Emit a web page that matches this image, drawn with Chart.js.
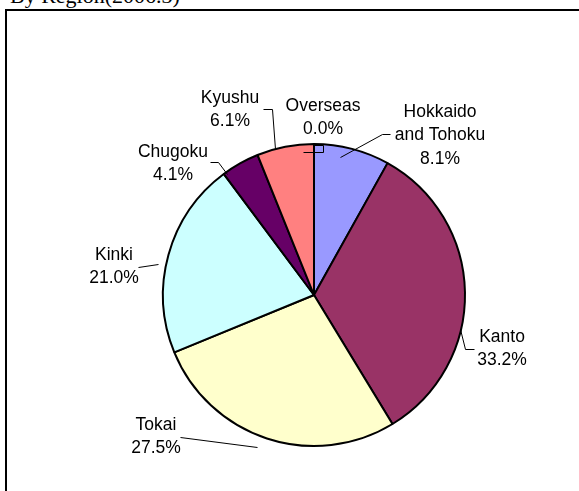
<!DOCTYPE html>
<html>
<head>
<meta charset="utf-8">
<script src="https://cdn.jsdelivr.net/npm/chart.js@4/dist/chart.umd.min.js"></script>
<style>
    html, body { margin: 0; padding: 0; background: #fff; overflow: hidden; }
    #titulo {
        position: absolute; left: 10px; top: -15px;
        font-family: "Liberation Serif", "DejaVu Serif", serif; font-size: 22px;
        line-height: 22px; color: #000; white-space: nowrap;
    }
    #marco {
        position: absolute; left: 5px; top: 9px; width: 600px; height: 500px;
        border-top: 2px solid #000; border-left: 2px solid #000;
    }
    #chartRegion { position: absolute; left: 0; top: 0; }
</style>
</head>
<body>
<div id="titulo">By Region(2006.3)</div>
<div id="marco"></div>
<canvas id="chartRegion" width="579" height="491"></canvas>
<script>
// Datos del gráfico (porcentaje por región)
const regiones = ['Hokkaido\nand Tohoku', 'Kanto', 'Tokai', 'Kinki', 'Chugoku', 'Kyushu', 'Overseas'];
const porcentajes = [8.1, 33.2, 27.5, 21.0, 4.1, 6.1, 0.0];
const colores = ['#9999FF', '#993366', '#FFFFCC', '#CCFFFF', '#660066', '#FF8080', '#FFFFFF'];

// Posición de las etiquetas respecto al centro del pastel (texto + línea guía)
const etiquetas = [
    { x: 126, y: -183, guia: [[26, -138], [68, -161], [76, -161]] },
    { x: 188, y: 42, guia: [[146, 34], [151, 54], [160, 54]] },
    { x: -158, y: 130, guia: [[-134, 142], [-57, 152]] },
    { x: -200, y: -40, guia: [[-176, -28], [-156, -31]] },
    { x: -141, y: -143, guia: [[-104, -133], [-96, -133], [-87, -121]] },
    { x: -84, y: -197, guia: [[-51, -186], [-42, -186], [-39, -146]] },
    { x: 9, y: -189, guia: [[-1, -150], [9, -150], [9, -143], [-11, -143]] }
];

const pluginEtiquetas = {
    id: 'etiquetas',
    afterDatasetsDraw(chart) {
        const ctx = chart.ctx;
        const arco = chart.getDatasetMeta(0).data[0];
        const cx = arco.x, cy = arco.y;
        ctx.save();
        ctx.strokeStyle = '#000';
        ctx.lineWidth = 1;
        ctx.fillStyle = '#000';
        ctx.font = '17.5px "Liberation Sans", Arial, sans-serif';
        ctx.textAlign = 'center';
        ctx.textBaseline = 'middle';
        etiquetas.forEach((et, i) => {
            ctx.beginPath();
            et.guia.forEach((p, j) => {
                const px = cx + p[0] + 0.5, py = cy + p[1] + 0.5;
                if (j === 0) ctx.moveTo(px, py); else ctx.lineTo(px, py);
            });
            ctx.stroke();
            const lineas = regiones[i].split('\n').concat([porcentajes[i].toFixed(1) + '%']);
            lineas.forEach((linea, k) => {
                ctx.fillText(linea, cx + et.x, cy + et.y + k * 23.5);
            });
        });
        ctx.restore();
    }
};

const ctxRegion = document.getElementById('chartRegion').getContext('2d');
const chartRegion = new Chart(ctxRegion, {
    type: 'pie',
    data: {
        labels: regiones,
        datasets: [{
            data: porcentajes,
            backgroundColor: colores,
            borderColor: '#000',
            borderWidth: 2,
            radius: 151
        }]
    },
    options: {
        responsive: false,
        animation: false,
        layout: { padding: { left: 49, right: 0, top: 99, bottom: 0 } },
        plugins: {
            legend: { display: false },
            tooltip: { enabled: false }
        }
    },
    plugins: [pluginEtiquetas]
});
</script>
</body>
</html>
